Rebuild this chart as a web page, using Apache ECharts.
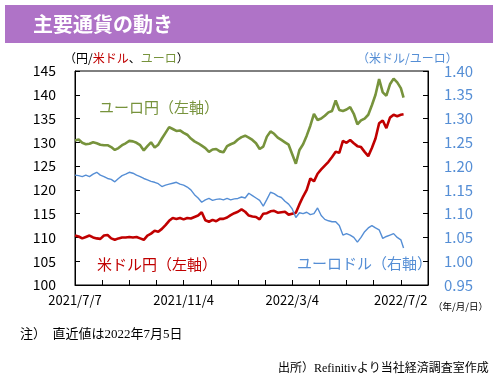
<!DOCTYPE html>
<html><head><meta charset="utf-8">
<script src="https://cdn.jsdelivr.net/npm/echarts@6/dist/echarts.min.js"></script>
<style>html,body{margin:0;padding:0;background:#fff;}#c{width:498px;height:378px;}</style>
</head><body><div id="c"></div>
<script>
// Sample dates (every 4 days from 2021/7/7 to 2022/7/2, plus latest 2022/7/5)
var dates = ["2021/7/7","2021/7/11","2021/7/15","2021/7/19","2021/7/23","2021/7/27","2021/7/31","2021/8/4","2021/8/8","2021/8/12","2021/8/16","2021/8/20","2021/8/24","2021/8/28","2021/9/1","2021/9/5","2021/9/9","2021/9/13","2021/9/17","2021/9/21","2021/9/25","2021/9/29","2021/10/3","2021/10/7","2021/10/11","2021/10/15","2021/10/19","2021/10/23","2021/10/27","2021/10/31","2021/11/4","2021/11/8","2021/11/12","2021/11/16","2021/11/20","2021/11/24","2021/11/28","2021/12/2","2021/12/6","2021/12/10","2021/12/14","2021/12/18","2021/12/22","2021/12/26","2021/12/30","2022/1/3","2022/1/7","2022/1/11","2022/1/15","2022/1/19","2022/1/23","2022/1/27","2022/1/31","2022/2/4","2022/2/8","2022/2/12","2022/2/16","2022/2/20","2022/2/24","2022/2/28","2022/3/4","2022/3/8","2022/3/12","2022/3/16","2022/3/20","2022/3/24","2022/3/28","2022/4/1","2022/4/5","2022/4/9","2022/4/13","2022/4/17","2022/4/21","2022/4/25","2022/4/29","2022/5/3","2022/5/7","2022/5/11","2022/5/15","2022/5/19","2022/5/23","2022/5/27","2022/5/31","2022/6/4","2022/6/8","2022/6/12","2022/6/16","2022/6/20","2022/6/24","2022/6/28","2022/7/2","2022/7/5"];

// ユーロ円 (left axis)
var eurJpy = [130.4,130.6,129.9,129.6,129.7,130.0,129.8,129.5,129.4,129.4,129.0,128.4,128.8,129.4,129.8,130.3,130.2,129.9,129.4,128.3,129.2,130.0,128.9,129.5,130.8,132.0,133.2,132.8,132.4,132.5,132.0,131.6,130.8,130.2,129.8,129.3,128.8,128.0,128.5,128.6,128.1,127.9,129.2,129.6,129.9,130.6,131.1,131.4,131.0,130.5,129.8,128.6,129.1,131.2,132.3,131.8,131.0,130.5,130.0,129.5,127.5,125.5,128.4,129.6,131.4,133.5,136.0,134.7,135.0,135.6,136.3,136.6,138.8,136.8,136.6,136.9,137.4,136.0,133.8,134.6,135.0,135.8,137.8,140.0,143.3,140.5,139.8,142.2,143.4,142.6,141.4,139.4];

// 米ドル円 (left axis)
var usdJpy = [110.4,110.2,109.8,110.1,110.4,110.0,109.8,109.7,110.4,110.5,109.8,109.5,109.8,110.0,110.0,110.1,110.0,110.1,109.8,109.5,110.4,110.8,111.4,111.2,111.8,112.6,113.5,114.1,113.9,114.1,113.8,114.1,114.0,114.3,114.6,115.3,113.6,113.3,113.7,113.4,113.9,113.9,114.2,114.7,115.1,115.4,115.9,115.4,114.6,114.4,114.3,113.8,115.0,115.1,115.5,115.6,115.2,115.3,115.4,114.8,115.0,115.2,117.0,118.6,120.0,122.4,121.8,123.4,124.3,125.1,125.9,126.9,128.0,127.8,130.3,129.9,130.5,129.8,129.2,129.0,128.0,127.1,128.8,130.8,134.0,134.6,133.0,135.2,135.8,135.5,135.8,135.9];

// ユーロドル (right axis)
var eurUsd = [1.181,1.180,1.178,1.181,1.178,1.183,1.187,1.181,1.178,1.174,1.172,1.167,1.174,1.180,1.183,1.187,1.185,1.181,1.178,1.174,1.171,1.168,1.166,1.163,1.157,1.160,1.162,1.164,1.166,1.162,1.160,1.156,1.150,1.140,1.133,1.124,1.129,1.132,1.128,1.130,1.131,1.129,1.132,1.129,1.131,1.132,1.135,1.133,1.143,1.138,1.133,1.128,1.116,1.130,1.145,1.142,1.137,1.134,1.126,1.120,1.110,1.092,1.102,1.100,1.103,1.098,1.100,1.112,1.096,1.088,1.085,1.083,1.083,1.075,1.055,1.058,1.055,1.050,1.040,1.050,1.062,1.070,1.075,1.070,1.066,1.048,1.052,1.055,1.058,1.050,1.045,1.028];

var leftTicks = [100,145,5];
var rightTicks = [0.95,1.40,0.05];
var startDate = "2021/7/7";

function toDay(s){
  var p = s.split('/').map(Number);
  var p0 = startDate.split('/').map(Number);
  return Math.round((Date.UTC(p[0],p[1]-1,p[2]) - Date.UTC(p0[0],p0[1]-1,p0[2]))/86400000);
}
function dayLabel(d){
  var p0 = startDate.split('/').map(Number);
  var t = new Date(Date.UTC(p0[0],p0[1]-1,p0[2]) + d*86400000);
  return t.getUTCFullYear()+'/'+(t.getUTCMonth()+1)+'/'+t.getUTCDate();
}
function pairs(vals){ return dates.map(function(d,i){ return [toDay(d), vals[i]]; }); }

var GREEN='#77933C', RED='#C00000', BLUE='#558ED5';
var chart = echarts.init(document.getElementById('c'), null, {renderer:'canvas'});
var JP = '"Noto Sans CJK JP", "Noto Sans", sans-serif';
var SERIF = '"Liberation Serif", "Noto Sans CJK JP", serif';

chart.setOption({
  animation:false,
  backgroundColor:'#fff',
  grid:{left:75, right:70, top:71, bottom:93, show:true, borderColor:'#000', borderWidth:1, backgroundColor:'transparent'},
  xAxis:{type:'value', min:0, max:390, interval:30,
    axisLine:{show:true, lineStyle:{color:'#000', width:1}},
    axisTick:{show:true, inside:true, length:5, lineStyle:{color:'#000'}},
    splitLine:{show:false},
    axisLabel:{color:'#000', fontSize:13, fontFamily:JP, margin:9,
      formatter:function(v){ return (v % 120 === 0 && v < 390) ? dayLabel(v) : ''; }}
  },
  yAxis:[
    {type:'value', min:leftTicks[0], max:leftTicks[1], interval:leftTicks[2], position:'left',
      axisLine:{show:true, lineStyle:{color:'#000', width:1}},
      axisTick:{show:true, inside:true, length:5, lineStyle:{color:'#000'}},
      splitLine:{show:false},
      axisLabel:{color:'#000', fontSize:14, fontFamily:JP, margin:19}},
    {type:'value', min:rightTicks[0], max:rightTicks[1], interval:rightTicks[2], position:'right',
      axisLine:{show:true, lineStyle:{color:'#000', width:1}},
      axisTick:{show:true, inside:true, length:5, lineStyle:{color:'#000'}},
      splitLine:{show:false},
      axisLabel:{color:BLUE, fontSize:15, fontFamily:JP, margin:16,
        formatter:function(v){ return v.toFixed(2); }}}
  ],
  series:[
    {name:'米ドル円', type:'line', yAxisIndex:0, data:pairs(usdJpy), showSymbol:false,
      lineStyle:{color:RED, width:2.6}, itemStyle:{color:RED}},
    {name:'ユーロ円', type:'line', yAxisIndex:0, data:pairs(eurJpy), showSymbol:false,
      lineStyle:{color:GREEN, width:2.6}, itemStyle:{color:GREEN}},
    {name:'ユーロドル', type:'line', yAxisIndex:1, data:pairs(eurUsd), showSymbol:false,
      lineStyle:{color:BLUE, width:1.4}, itemStyle:{color:BLUE}}
  ],
  graphic:[
    {type:'rect', shape:{x:5, y:5, width:488, height:38}, style:{fill:'#AF73C7'}},
    {type:'text', style:{text:'主要通貨の動き', x:33, y:24, verticalAlign:'middle', fill:'#fff', font:'bold 20px '+JP}},
    {type:'text', style:{x:64, y:58, verticalAlign:'middle',
      text:'{k|（円/}{r|米ドル}{k|、}{g|ユーロ}{k|）}',
      rich:{k:{fill:'#000', font:'12px '+JP}, r:{fill:RED, font:'12px '+JP}, g:{fill:GREEN, font:'12px '+JP}}}},
    {type:'text', style:{text:'（米ドル/ユーロ）', x:357, y:58, verticalAlign:'middle', fill:BLUE, font:'12px '+JP}},
    {type:'text', style:{text:'ユーロ円（左軸）', x:99, y:107, verticalAlign:'middle', fill:GREEN, font:'15px '+JP}},
    {type:'text', style:{text:'米ドル円（左軸）', x:97, y:264, verticalAlign:'middle', fill:RED, font:'15px '+JP}},
    {type:'text', style:{text:'ユーロドル（右軸）', x:297, y:263, verticalAlign:'middle', fill:BLUE, font:'15px '+JP}},
    {type:'text', style:{text:'（年/月/日）', x:433, y:306, verticalAlign:'middle', fill:'#000', font:'9.5px '+JP}},
    {type:'text', style:{text:'注）  直近値は2022年7月5日', x:20, y:335, verticalAlign:'middle', fill:'#000', font:'13px '+SERIF}},
    {type:'text', style:{text:'出所）Refinitivより当社経済調査室作成', x:278, y:369, verticalAlign:'middle', fill:'#000', font:'12px '+SERIF}}
  ]
});
</script>
</body></html>
